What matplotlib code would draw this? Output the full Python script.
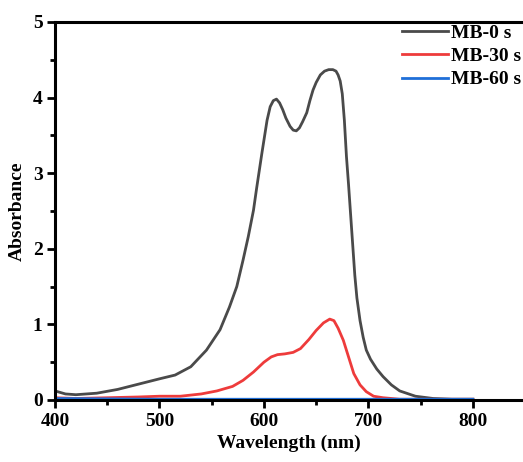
import matplotlib
matplotlib.use("Agg")
import matplotlib.pyplot as plt
from matplotlib.ticker import MultipleLocator

plt.rcParams['font.family'] = ['Liberation Serif', 'DejaVu Serif']
plt.rcParams['font.weight'] = 'bold'

# Wavelength (nm) / absorbance data
wl_0 = [400, 410, 420, 440, 460, 480, 500, 515, 530, 545, 558, 567, 574, 580, 585,
        590, 593, 598, 603, 606, 609, 612, 615, 618, 621, 625, 628, 631, 634, 637,
        641, 644, 647, 650, 654, 658, 662, 666, 669, 671, 673, 675, 677, 679, 681,
        683, 685, 687, 689, 692, 695, 698, 702, 708, 714, 722, 730, 745, 762, 780,
        800]
abs_0 = [0.12, 0.08, 0.07, 0.09, 0.14, 0.21, 0.28, 0.33, 0.44, 0.66, 0.93, 1.23,
         1.50, 1.85, 2.16, 2.51, 2.80, 3.26, 3.70, 3.88, 3.96, 3.98, 3.93, 3.84,
         3.73, 3.62, 3.57, 3.56, 3.60, 3.68, 3.80, 3.96, 4.10, 4.20, 4.30, 4.35,
         4.37, 4.37, 4.35, 4.30, 4.22, 4.05, 3.70, 3.22, 2.85, 2.45, 2.05, 1.65,
         1.35, 1.05, 0.83, 0.66, 0.54, 0.41, 0.31, 0.20, 0.12, 0.05, 0.02, 0.01,
         0.01]

wl_30 = [400, 420, 450, 480, 500, 520, 540, 555, 570, 580, 590, 600, 607, 613, 620,
         628, 635, 643, 650, 657, 663, 667, 671, 676, 681, 686, 692, 698, 705, 714,
         730, 760, 800]
abs_30 = [0.03, 0.02, 0.03, 0.04, 0.05, 0.05, 0.08, 0.12, 0.18, 0.26, 0.37, 0.50,
          0.57, 0.60, 0.61, 0.63, 0.68, 0.80, 0.92, 1.02, 1.07, 1.05, 0.95, 0.79,
          0.57, 0.35, 0.20, 0.11, 0.05, 0.03, 0.01, 0.01, 0.01]

wl_60 = [400, 500, 600, 700, 800]
abs_60 = [0.02, 0.01, 0.01, 0.01, 0.01]

labels = ['MB-0 s', 'MB-30 s', 'MB-60 s']
colors = ['#4a4a4a', '#ee3b3b', '#1f6fd8']

fig = plt.figure(figsize=(5.23, 4.62), dpi=100)
ax = fig.add_axes([55/523, 62/462, 1 - 55/523, (400-22)/462])

for x, y, lab, c in zip([wl_0, wl_30, wl_60], [abs_0, abs_30, abs_60], labels, colors):
    ax.plot(x, y, color=c, lw=2.0, label=lab, solid_joinstyle='round')

ax.set_xlim(400, 848)
ax.set_ylim(0, 5)
ax.xaxis.set_major_locator(MultipleLocator(100))
ax.xaxis.set_minor_locator(MultipleLocator(50))
ax.yaxis.set_major_locator(MultipleLocator(1))
ax.yaxis.set_minor_locator(MultipleLocator(0.5))

for s in ['left', 'bottom', 'top']:
    ax.spines[s].set_linewidth(2.2)
ax.spines['right'].set_visible(False)

ax.tick_params(which='major', direction='out', length=6, width=2, labelsize=14, pad=3)
ax.tick_params(which='minor', direction='out', length=3.5, width=2)
ax.tick_params(top=False, right=False, which='both')
for t in ax.get_xticklabels() + ax.get_yticklabels():
    t.set_fontweight('bold')

ax.set_xlabel('Wavelength (nm)', fontsize=14, fontweight='bold', labelpad=4)
ax.set_ylabel('Absorbance', fontsize=14, fontweight='bold', labelpad=5)

leg = ax.legend(loc='upper left', bbox_to_anchor=(0.741, 0.995), frameon=False,
                prop={'family': 'Liberation Serif', 'weight': 'bold', 'size': 14},
                handlelength=2.4, handletextpad=0.15, labelspacing=0.3,
                borderaxespad=0.0, borderpad=0.0)

fig.savefig('out.png', dpi=100)
